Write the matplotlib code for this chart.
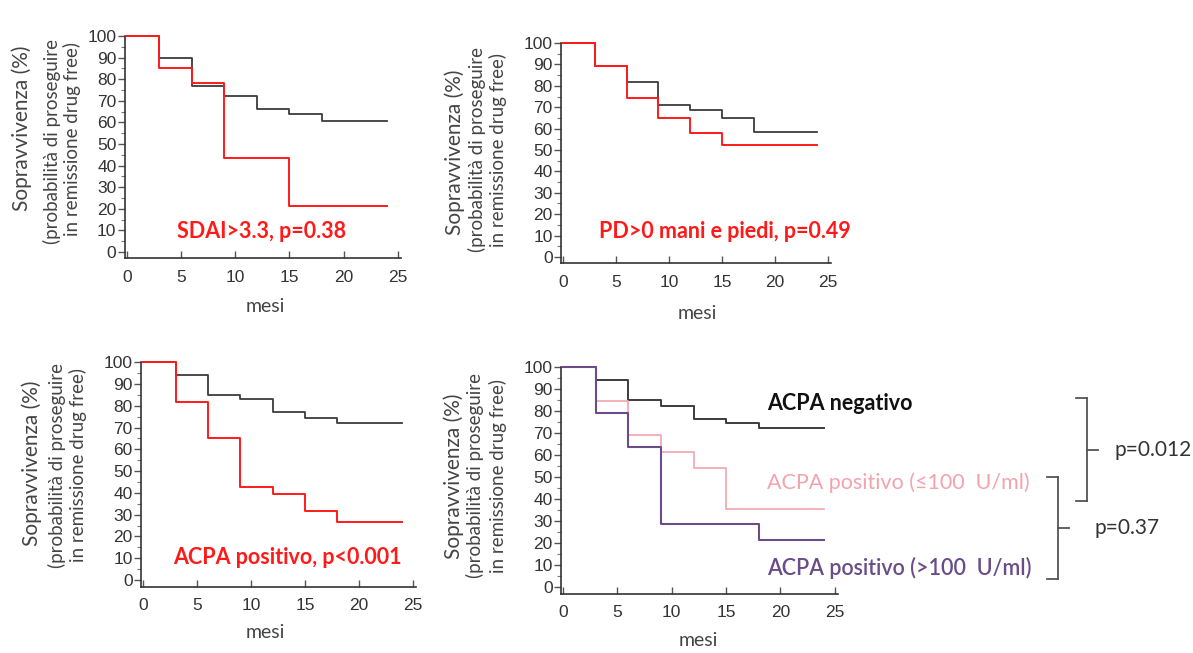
"""Curve di sopravvivenza (remissione drug free) — 4 pannelli"""

import matplotlib
matplotlib.use("Agg")
import matplotlib.pyplot as plt
from matplotlib.lines import Line2D
from matplotlib.ticker import MultipleLocator

W, H = 1193, 653

# --- dati (mesi, sopravvivenza %) ---
t_sdai_no = [0, 3, 6, 9, 12, 15, 18, 24]
s_sdai_no = [100, 90, 77, 72, 66, 64, 60.5, 60.5]
t_sdai_si = [0, 3, 6, 9, 15, 24]
s_sdai_si = [100, 85, 78, 43.5, 21.5, 21.5]

t_pd_no = [0, 3, 6, 9, 12, 15, 18, 24]
s_pd_no = [100, 89.5, 82, 71, 68.5, 65, 58.5, 58.5]
t_pd_si = [0, 3, 6, 9, 12, 15, 24]
s_pd_si = [100, 89.5, 74.5, 65, 58, 52.5, 52.5]

t_acpa_neg = [0, 3, 6, 9, 12, 15, 18, 24]
s_acpa_neg = [100, 94, 85, 83, 77, 74.5, 72, 72]
t_acpa_pos = [0, 3, 6, 9, 12, 15, 18, 24]
s_acpa_pos = [100, 81.5, 65, 42.5, 39.5, 31.5, 26.5, 26.5]

t_neg = [0, 3, 6, 9, 12, 15, 18, 24]
s_neg = [100, 94, 85, 82.5, 76.5, 74.5, 72.5, 72.5]
t_low = [0, 3, 6, 9, 12, 15, 24]
s_low = [100, 84.5, 69, 61.5, 54, 35.5, 35.5]
t_high = [0, 3, 6, 9, 18, 24]
s_high = [100, 79, 63.5, 28.5, 21.5, 21.5]

x_ticks = [0, 5, 10, 15, 20, 25]
y_ticks = list(range(0, 101, 10))
ylabel_lines = ["Sopravvivenza (%)", "(probabilità di proseguire", "in remissione drug free)"]

GREY = "#3c3c3c"
RED = "#ff1a1a"
PINK = "#f2a3ae"
PURPLE = "#6a4c88"
TXT = "#444444"
FONT = ["Lato", "DejaVu Sans"]
TICKFONT = ["Liberation Sans", "DejaVu Sans"]


def frac(x, y):
    return x / W, 1 - y / H


def make_axes(fig, left, right, top, bottom):
    ax = fig.add_axes([left / W, 1 - bottom / H, (right - left) / W, (bottom - top) / H])
    ax.set_xlim(-0.2, 25.3)
    ax.set_ylim(-3, 101)
    for s in ("top", "right"):
        ax.spines[s].set_visible(False)
    for s in ("left", "bottom"):
        ax.spines[s].set_color("#333333")
        ax.spines[s].set_linewidth(1.2)
    ax.spines["left"].set_bounds(-3, 100)
    ax.spines["bottom"].set_bounds(-0.2, 25.3)
    ax.set_xticks(x_ticks)
    ax.set_yticks(y_ticks)
    ax.yaxis.set_minor_locator(MultipleLocator(5))
    ax.tick_params(axis="x", direction="in", length=5, width=1, color="#555555", pad=8)
    ax.tick_params(axis="y", which="major", direction="out", length=5, width=1, color="#555555", pad=1)
    ax.tick_params(axis="y", which="minor", direction="out", length=3, width=0.8, color="#777777")
    for lab in ax.get_xticklabels() + ax.get_yticklabels():
        lab.set_family(TICKFONT)
        lab.set_fontsize(12.5)
        lab.set_color("#333333")
    ax.patch.set_alpha(0)
    return ax


def ylabel(fig, xs, yc):
    sizes = [15, 13.5, 13.5]
    for x, y, line, fs in zip(xs, yc, ylabel_lines, sizes):
        fx, fy = frac(x, y)
        fig.text(fx, fy, line, rotation=90, ha="center", va="center",
                 family=FONT, fontsize=fs, color=TXT)


def xlabel(fig, x, y):
    fx, fy = frac(x, y)
    fig.text(fx, fy, "mesi", ha="center", va="center", family=FONT, fontsize=14, color=TXT)


fig = plt.figure(figsize=(W / 100, H / 100), dpi=100)
fig.patch.set_facecolor("white")

# pannello 1 — SDAI
ax1 = make_axes(fig, 124.8, 401, 33.8, 258.5)
ax1.step(t_sdai_no, s_sdai_no, where="post", color=GREY, lw=1.3)
ax1.step(t_sdai_si, s_sdai_si, where="post", color=RED, lw=1.4)
ylabel(fig, [22, 52, 72], [128, 141, 139])
xlabel(fig, 265, 307)
fig.text(*frac(262, 231), "SDAI>3.3, p=0.38", ha="center", va="center",
         family=FONT, fontsize=15.5, fontweight="bold", color=RED)

# pannello 2 — PD
ax2 = make_axes(fig, 561, 831, 40.9, 263.4)
ax2.step(t_pd_no, s_pd_no, where="post", color=GREY, lw=1.3)
ax2.step(t_pd_si, s_pd_si, where="post", color=RED, lw=1.4)
ylabel(fig, [455, 477, 498], [152, 150, 150])
xlabel(fig, 697, 313)
fig.text(*frac(725, 231), "PD>0 mani e piedi, p=0.49", ha="center", va="center",
         family=FONT, fontsize=15.5, fontweight="bold", color=RED)

# pannello 3 — ACPA
ax3 = make_axes(fig, 141, 416, 360, 586.5)
ax3.step(t_acpa_neg, s_acpa_neg, where="post", color=GREY, lw=1.3)
ax3.step(t_acpa_pos, s_acpa_pos, where="post", color=RED, lw=1.4)
ylabel(fig, [32, 57, 78], [463, 465, 465])
xlabel(fig, 265, 633)
fig.text(*frac(287, 557), "ACPA positivo, p<0.001", ha="center", va="center",
         family=FONT, fontsize=15.5, fontweight="bold", color=RED)

# pannello 4 — ACPA per titolo
ax4 = make_axes(fig, 561, 838, 365, 593.6)
ax4.step(t_neg, s_neg, where="post", color=GREY, lw=1.4)
ax4.step(t_low, s_low, where="post", color=PINK, lw=1.2)
ax4.step(t_high, s_high, where="post", color=PURPLE, lw=1.5)
ylabel(fig, [454, 475, 498], [476, 476, 476])
xlabel(fig, 698, 640)
fig.text(*frac(767, 403), "ACPA negativo", ha="left", va="center",
         family=FONT, fontsize=15.5, fontweight="bold", color="#111111")
fig.text(*frac(767, 483), "ACPA positivo (\u2264100  U/ml)", ha="left", va="center",
         family=FONT, fontsize=15.5, color=PINK)
fig.text(*frac(767, 568), "ACPA positivo (>100  U/ml)", ha="left", va="center",
         family=FONT, fontsize=15.5, fontweight="semibold", color=PURPLE)


def bracket(x, y0, y1, tick=11):
    ym = (y0 + y1) / 2
    segs = [((x - tick, y0), (x, y0)), ((x, y0), (x, y1)),
            ((x - tick, y1), (x, y1)), ((x, ym), (x + tick, ym))]
    for (xa, ya), (xb, yb) in segs:
        (fa, ga), (fb, gb) = frac(xa, ya), frac(xb, yb)
        fig.add_artist(Line2D([fa, fb], [ga, gb], transform=fig.transFigure,
                              color="#555555", lw=1.3))
    return ym


ym1 = bracket(1087, 398, 501)
fig.text(*frac(1115, ym1), "p=0.012", ha="left", va="center", family=FONT, fontsize=15, color="#333333")
ym2 = bracket(1058, 477, 579)
fig.text(*frac(1094, ym2), "p=0.37", ha="left", va="center", family=FONT, fontsize=15, color="#333333")

fig.savefig("out.png", dpi=100, facecolor="white")
